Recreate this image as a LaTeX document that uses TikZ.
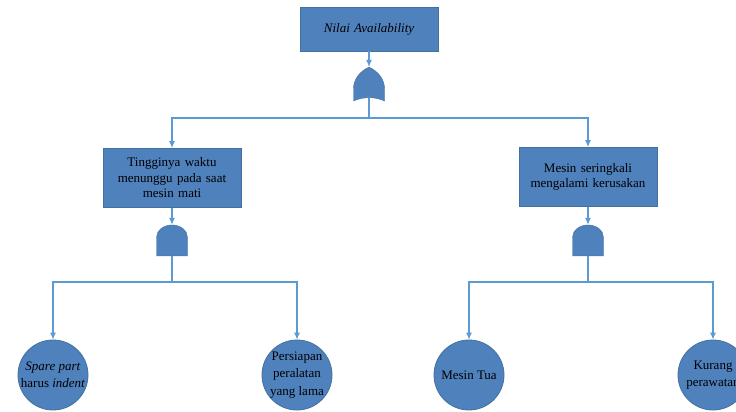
\documentclass[tikz,border=0pt]{standalone}
\usepackage{fontspec}
\setmainfont{Liberation Serif}
\usetikzlibrary{shapes,arrows,arrows.meta,shapes.gates.logic.US}
\definecolor{boxfill}{HTML}{4F81BD}
\definecolor{boxline}{HTML}{41719C}
\definecolor{wire}{HTML}{5B9BD5}
\tikzstyle{event} = [rectangle, draw=boxline, fill=boxfill, line width=0.8pt,
    text width=126pt, align=center, inner xsep=6pt, minimum height=59pt,
    font=\fontsize{13}{15.5}\selectfont]
\tikzstyle{basic} = [circle, draw=boxline, fill=boxfill, line width=0.8pt,
    minimum size=70pt, inner sep=-3pt, align=center,
    font=\fontsize{13}{17.5}\selectfont]
\tikzstyle{orgate} = [or gate US, draw=boxline, fill=boxfill, rotate=90,
    xscale=0.8, minimum width=33pt, minimum height=31pt, inner sep=0pt]
\tikzstyle{andgate} = [and gate US, draw=boxline, fill=boxfill, rotate=90,
    xscale=0.8, minimum width=33pt, minimum height=31pt, inner sep=0pt]
\tikzstyle{line} = [draw=wire, line width=1.1pt, -{Latex[length=7pt,width=6pt]}]

\begin{document}
\begin{tikzpicture}[x=1pt, y=-1pt]
 \useasboundingbox (0,0) rectangle (736,412);
 \clip (0,0) rectangle (736,412);
 % Place nodes
    \node [event, minimum height=44pt] (top) at (369,29) {\textit{Nilai Availability}};
    \node [orgate] (g0) at (369,86.5) {};
    \node [event] (wait) at (172,178) {Tingginya waktu\\menunggu pada saat\\mesin mati};
    \node [event] (rusak) at (588,177) {Mesin seringkali\\mengalami kerusakan};
    \node [andgate] (g1) at (172,241.5) {};
    \node [andgate] (g2) at (588,241.5) {};
    \node [basic] (spare) at (53,375) {\textit{Spare part}\\harus \textit{indent}};
    \node [basic] (siap) at (297,375) {Persiapan\\peralatan\\yang lama};
    \node [basic] (tua) at (469,375) {Mesin Tua};
    \node [basic] (rawat) at (713,375) {Kurang\\perawatan};
    \coordinate (j0) at (369,118);
    \coordinate (j1) at (172,282);
    \coordinate (j2) at (588,282);

    % Draw edges
   \path [line] (top) -- (g0.output);
   \path [line] (g0.west) -- (j0) -| (wait.north);
   \path [line] (g0.west) -- (j0) -| (rusak.north);
   \path [line] (wait) -- (g1.output);
   \path [line] (g1.west) -- (j1) -| (spare.north);
   \path [line] (g1.west) -- (j1) -| (siap.north);
   \path [line] (rusak) -- (g2.output);
   \path [line] (g2.west) -- (j2) -| (tua.north);
   \path [line] (g2.west) -- (j2) -| (rawat.north);
\end{tikzpicture}
\end{document}
